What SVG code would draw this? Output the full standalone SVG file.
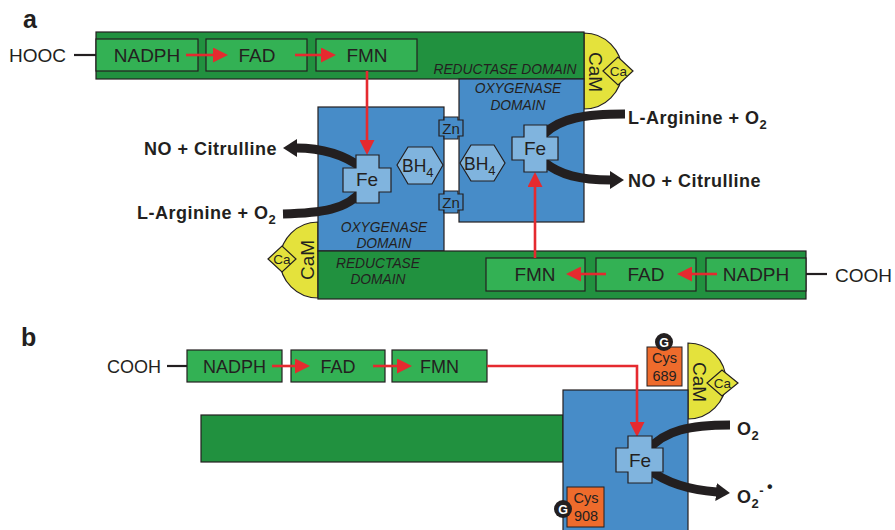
<svg xmlns="http://www.w3.org/2000/svg" width="895" height="530" viewBox="0 0 895 530">
<style>
.dg{fill:#21913f;stroke:#231f20;stroke-width:1.2}
.lg{fill:#33b154;stroke:#231f20;stroke-width:1.2}
.bl{fill:#478cc8;stroke:#231f20;stroke-width:1.2}
.lb{fill:#80b4de;stroke:#231f20;stroke-width:1.2}
.ye{fill:#e4e23c;stroke:#231f20;stroke-width:1.2}
.or{fill:#ee6b2c;stroke:#231f20;stroke-width:1}
.t{font-family:"Liberation Sans",Arial,sans-serif;fill:#231f20}
.bx{font-size:19px;text-anchor:middle}
.bxb{font-size:18px;text-anchor:middle}
.it{font-style:italic;font-size:13.8px;text-anchor:middle}
.bd{font-weight:bold;font-size:18px;letter-spacing:0.5px}
.lab{font-weight:bold;font-size:25px}
.red{stroke:#e52a2f;stroke-width:2.6;fill:none}
.blk{stroke:#231f20;stroke-width:9;fill:none}
.cam{font-size:19px;text-anchor:middle}
.ca{font-size:13.5px;text-anchor:middle}
.zn{font-size:15px;text-anchor:middle}
.fe{font-size:19px;text-anchor:middle}
.cys{font-size:14.5px;text-anchor:middle}
.g{font-family:"Liberation Sans",Arial,sans-serif;font-weight:bold;font-size:12.5px;fill:#fff;text-anchor:middle}
</style>
<defs>
<marker id="ra" markerUnits="userSpaceOnUse" viewBox="0 0 15 15" markerWidth="15" markerHeight="15" refX="1" refY="7.5" orient="auto"><path d="M0,0 L15,7.5 L0,15 Z" fill="#e52a2f"/></marker>
<marker id="ba" markerUnits="userSpaceOnUse" viewBox="0 0 14 18" markerWidth="14" markerHeight="18" refX="1" refY="9" orient="auto"><path d="M0,0 L14,9 L0,18 Z" fill="#231f20"/></marker>
</defs>
<rect width="895" height="530" fill="#fff"/>

<!-- Panel a -->
<text class="t lab" x="23" y="28">a</text>
<g id="hooc-a"><text class="t bx" x="9" y="62" style="text-anchor:start">HOOC</text><line x1="74" y1="55" x2="96" y2="55" stroke="#231f20" stroke-width="2.2"/></g>
<g id="cooh-a"><text class="t bx" x="835" y="282" style="text-anchor:start">COOH</text><line x1="806" y1="274" x2="827" y2="274" stroke="#231f20" stroke-width="2.2"/></g>

<g id="cam-top">
<path class="ye" d="M584,33 A38,38 0 0 1 584,109 Z"/>
<polygon class="ye" points="603,71 618,57 633,71 618,85"/>
<text class="t ca" x="618.5" y="76">Ca</text>
<text class="t cam" transform="translate(589,72) rotate(90)">CaM</text>
</g>
<g id="cam-bottom">
<path class="ye" d="M318,222 A38,38 0 0 0 318,298 Z"/>
<polygon class="ye" points="268,259 282,246 296,259 282,272"/>
<text class="t ca" x="282" y="264">Ca</text>
<text class="t cam" transform="translate(314,260) rotate(-90)">CaM</text>
</g>

<g id="reductase-top">
<rect class="dg" x="96" y="32" width="488" height="47"/>
<text class="t it" x="505" y="74">REDUCTASE DOMAIN</text>
</g>
<g id="oxygenase-right">
<rect class="bl" x="459" y="79" width="125" height="143"/>
<text class="t it" x="518" y="93">OXYGENASE</text>
<text class="t it" x="518" y="110">DOMAIN</text>
</g>
<g id="oxygenase-left">
<rect class="bl" x="318" y="107" width="126" height="144"/>
<text class="t it" x="384" y="232">OXYGENASE</text>
<text class="t it" x="384" y="248">DOMAIN</text>
</g>
<g id="reductase-bottom">
<rect class="dg" x="318" y="251" width="488" height="48"/>
<text class="t it" x="378" y="268">REDUCTASE</text>
<text class="t it" x="378" y="284">DOMAIN</text>
</g>

<g id="zn-top"><path class="bl" d="M444,117 H458 V120 H463 V136 H458 V139 H444 V136 H439 V120 H444 Z"/><text class="t zn" x="451" y="133.5">Zn</text></g>
<g id="zn-bottom"><path class="bl" d="M444,191 H458 V194 H463 V210 H458 V213 H444 V210 H439 V194 H444 Z"/><text class="t zn" x="451" y="207.5">Zn</text></g>

<g id="bh4-left"><polygon class="lb" points="397,165 408,147 432,147 443,165 432,184 408,184"/><text class="t" x="402" y="172" font-size="17.5">BH<tspan font-size="13" dy="5">4</tspan></text></g>
<g id="bh4-right"><polygon class="lb" points="460,163 471,145 494,145 505,163 494,181 471,181"/><text class="t" x="464" y="170" font-size="17.5">BH<tspan font-size="13" dy="5">4</tspan></text></g>

<g id="nadph-a1"><rect class="lg" x="96" y="39" width="102" height="32"/><text class="t bx" x="147" y="62">NADPH</text></g>
<g id="fad-a1"><rect class="lg" x="206" y="39" width="101" height="32"/><text class="t bx" x="257" y="62">FAD</text></g>
<g id="fmn-a1"><rect class="lg" x="316" y="39" width="101" height="32"/><text class="t bx" x="367" y="62">FMN</text></g>
<g id="fmn-a2"><rect class="lg" x="486" y="258" width="99" height="33"/><text class="t bx" x="535" y="281">FMN</text></g>
<g id="fad-a2"><rect class="lg" x="596" y="258" width="100" height="33"/><text class="t bx" x="646" y="281">FAD</text></g>
<g id="nadph-a2"><rect class="lg" x="706" y="258" width="100" height="33"/><text class="t bx" x="756" y="281">NADPH</text></g>

<!-- Panel b -->
<text class="t lab" x="21" y="346">b</text>
<g id="cooh-b"><text class="t bxb" x="107" y="373" style="text-anchor:start">COOH</text><line x1="167" y1="366" x2="187" y2="366" stroke="#231f20" stroke-width="2.2"/></g>
<g id="reductase-b"><rect class="dg" x="201" y="415" width="362" height="47"/></g>
<g id="cam-b">
<path class="ye" d="M688,343 A38,38 0 0 1 688,419 Z"/>
<polygon class="ye" points="707,383 722,370 738,383 722,396"/>
<text class="t ca" x="722.5" y="388">Ca</text>
<text class="t cam" transform="translate(693,382) rotate(90)">CaM</text>
</g>
<g id="oxygenase-b"><rect class="bl" x="563" y="390" width="125" height="150"/></g>
<g id="nadph-b"><rect class="lg" x="187" y="350" width="95" height="32"/><text class="t bxb" x="234.5" y="373">NADPH</text></g>
<g id="fad-b"><rect class="lg" x="291" y="350" width="94" height="32"/><text class="t bxb" x="338" y="373">FAD</text></g>
<g id="fmn-b"><rect class="lg" x="392" y="350" width="95" height="32"/><text class="t bxb" x="439.5" y="373">FMN</text></g>
<g id="cys689"><rect class="or" x="647" y="347" width="35" height="39"/><text class="t cys" x="664.5" y="363">Cys</text><text class="t cys" x="664.5" y="381">689</text>
<circle cx="664" cy="342" r="9" fill="#231f20"/><text class="g" x="664" y="346.5">G</text></g>
<g id="cys908"><rect class="or" x="567" y="487" width="37" height="40"/><text class="t cys" x="586" y="503">Cys</text><text class="t cys" x="586" y="521">908</text>
<circle cx="563" cy="509" r="9" fill="#231f20"/><text class="g" x="563" y="513.5">G</text></g>

<!-- Connectors -->
<g id="connectors">
<line class="red" x1="186" y1="55" x2="214" y2="55" marker-end="url(#ra)"/>
<line class="red" x1="295" y1="55" x2="322" y2="55" marker-end="url(#ra)"/>
<line class="red" x1="367" y1="71" x2="367" y2="141" marker-end="url(#ra)"/>
<line class="red" x1="606" y1="274" x2="580" y2="274" marker-end="url(#ra)"/>
<line class="red" x1="717" y1="274" x2="691" y2="274" marker-end="url(#ra)"/>
<line class="red" x1="535" y1="258" x2="535" y2="186" marker-end="url(#ra)"/>
<line class="red" x1="272" y1="366" x2="296" y2="366" marker-end="url(#ra)"/>
<line class="red" x1="373" y1="366" x2="398" y2="366" marker-end="url(#ra)"/>
<polyline class="red" points="487,366 637,366 637,423" marker-end="url(#ra)"/>
<path class="blk" d="M362,168 C346,156 325,148 296,148" marker-end="url(#ba)"/>
<path class="blk" d="M283,214 C320,213 348,210 362,190"/>
<path class="blk" d="M625,114 C585,114 560,118 544,134"/>
<path class="blk" d="M544,162 C560,175 580,180 611,180" marker-end="url(#ba)"/>
<path class="blk" d="M730,425 C690,425 665,430 648,450"/>
<path class="blk" d="M648,469 C665,482 690,490 717,492" marker-end="url(#ba)"/>
</g>

<g id="fe-left"><path class="lb" d="M356,155 H379 V168 H391 V192 H379 V203 H356 V192 H343 V168 H356 Z"/><text class="t fe" x="367" y="186">Fe</text></g>
<g id="fe-right"><path class="lb" d="M524,125 H547 V137 H558 V160 H547 V172 H524 V160 H512 V137 H524 Z"/><text class="t fe" x="535" y="155">Fe</text></g>
<g id="fe-b"><path class="lb" d="M628,436 H652 V448 H663 V472 H652 V483 H628 V472 H616 V448 H628 Z"/><text class="t fe" x="640" y="466.5">Fe</text></g>

<g id="labels">
<text class="t bd" x="144" y="155">NO + Citrulline</text>
<text class="t bd" x="137" y="219">L-Arginine + O<tspan font-size="13" dy="5">2</tspan></text>
<text class="t bd" x="628" y="124">L-Arginine + O<tspan font-size="13" dy="5">2</tspan></text>
<text class="t bd" x="628" y="187">NO + Citrulline</text>
<text class="t bd" x="737" y="435">O<tspan font-size="13" dy="5">2</tspan></text>
<text class="t bd" x="737" y="503">O<tspan font-size="13" dy="5">2</tspan><tspan font-size="13" dy="-13">-</tspan><tspan font-size="16" dx="3" dy="-3">•</tspan></text>
</g>
</svg>
